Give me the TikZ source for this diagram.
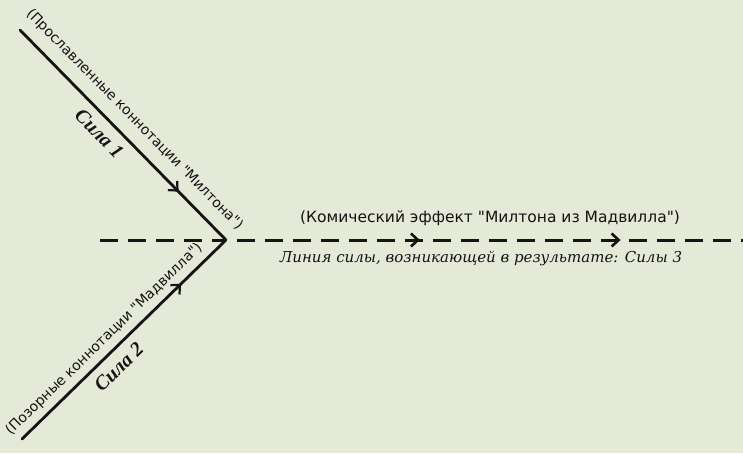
\documentclass[tikz,border=0pt]{standalone}
\usepackage{fontspec}
\newfontfamily\dvs{DejaVu Sans}
\newfontfamily\dvserif{DejaVu Serif}
\newfontfamily\serifit{Liberation Serif}
\usetikzlibrary{arrows.meta,decorations.markings}
\definecolor{bg}{RGB}{229,233,216}
\definecolor{ink}{RGB}{20,20,20}
\begin{document}
\begin{tikzpicture}[x=1pt,y=-1pt,
  force/.style={draw=ink,line width=2.8pt,line cap=round,
    postaction={decorate,decoration={markings,
      mark=at position #1 with {\arrow[ink]{Straight Barb[length=7pt,width=13pt,line width=2.2pt]}}}}},
  dashline/.style={draw=ink,line width=3pt,dash pattern=on 18pt off 10pt},
  lbl/.style={font=\dvs\fontsize{14}{16}\selectfont,inner sep=0pt,text=ink},
  sila/.style={font=\serifit\bfseries\itshape\fontsize{20}{22}\selectfont,inner sep=0pt,text=ink},
  toplbl/.style={font=\dvs\fontsize{15.5}{18}\selectfont,inner sep=0pt,text=ink},
  itlbl/.style={font=\dvserif\itshape\fontsize{15}{17}\selectfont,inner sep=0pt,text=ink}]
\fill[bg] (0,0) rectangle (743,453);
\useasboundingbox (0,0) rectangle (743,453);
\coordinate (a1) at (20,30);
\coordinate (v) at (226,240);
\coordinate (a2) at (22,439);
\coordinate (dl) at (100,240);
\coordinate (dr0) at (237,240);
\coordinate (dr) at (745,240);
% dashed lines
\draw[dashline] (dl) -- (v);
\draw[dashline,postaction={decorate,decoration={markings,
   mark=at position 0.36 with {\arrow[ink]{Straight Barb[length=7pt,width=13pt,line width=2.6pt]}},
   mark=at position 0.755 with {\arrow[ink]{Straight Barb[length=7pt,width=13pt,line width=2.6pt]}}}}] (dr0) -- (dr);
% force lines
\draw[force=0.77] (a1) -- (v);
\draw[force=0.78] (a2) -- (v);
% labels
\path (a1) -- (v)
  node[lbl,pos=0.49,sloped,above=12pt] (l1) {(Прославленные коннотации "Милтона")}
  node[sila,pos=0.44,sloped,below=9pt] (s1) {Сила 1};
\path (a2) -- (v)
  node[lbl,pos=0.45,sloped,above=7pt] (l2) {(Позорные коннотации "Мадвилла")}
  node[sila,pos=0.42,sloped,below=9pt] (s2) {Сила 2};
\node[toplbl] (t3) at (490,218) {(Комический эффект "Милтона из Мадвилла")};
\node[itlbl] (t4) at (481,259) {Линия силы, возникающей в результате: Силы 3};
\end{tikzpicture}
\end{document}
